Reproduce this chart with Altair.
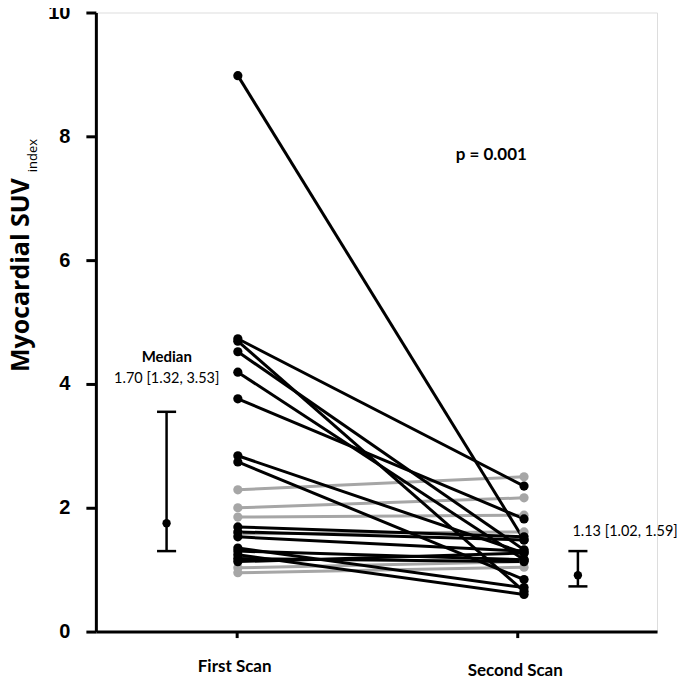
import altair as alt
import pandas as pd

# ---- data ----
gray_first = [2.29, 2.00, 1.85, 1.58, 1.03, 0.95]
gray_second = [2.50, 2.16, 1.88, 1.61, 1.13, 1.04]
black_first = [8.98, 4.73, 4.69, 4.52, 4.19, 3.76, 2.84, 2.74, 1.69, 1.61, 1.53, 1.35, 1.30, 1.24, 1.18, 1.13]
black_second = [1.48, 2.35, 0.65, 1.32, 1.16, 1.82, 1.27, 0.84, 1.53, 1.48, 1.30, 0.71, 1.16, 0.60, 1.13, 1.27]

scan_labels = ["First Scan", "Second Scan"]
err_first = {"mid": 1.75, "lo": 1.30, "hi": 3.55}
err_second = {"mid": 0.91, "lo": 0.73, "hi": 1.30}
label_first = "1.70 [1.32, 3.53]"
label_second = "1.13 [1.02, 1.59]"
p_text = "p = 0.001"

# layout positions (x domain 0-100)
X_FIRST, X_SECOND = 25.3, 76.3
X_EB1, X_EB2 = 12.6, 85.9
CAP = 1.7

rows = []
pid = 0
for grp, f_list, s_list in [("gray", gray_first, gray_second), ("black", black_first, black_second)]:
    for f, s in zip(f_list, s_list):
        rows.append({"id": pid, "grp": grp, "x": X_FIRST, "v": f})
        rows.append({"id": pid, "grp": grp, "x": X_SECOND, "v": s})
        pid += 1
df = pd.DataFrame(rows)

xs = alt.Scale(domain=[0, 100], nice=False, zero=False)
ys = alt.Scale(domain=[0, 10], nice=False)

x_axis = alt.Axis(values=[25, 75], labels=False, title=None, domainWidth=3, domainColor="black",
                  tickWidth=3, tickSize=6, tickColor="black", grid=False)
y_axis = alt.Axis(values=[0, 2, 4, 6, 8, 10], format="d", title=None, domainWidth=3, domainColor="black",
                  tickWidth=3, tickSize=10, tickColor="black", grid=False,
                  labelFont="Liberation Sans", labelFontWeight="bold", labelFontSize=20,
                  labelColor="black", labelPadding=16)

base = alt.Chart(df)
lines_gray = base.transform_filter(alt.datum.grp == "gray").mark_line(strokeWidth=3, color="#a6a6a6").encode(
    x=alt.X("x:Q", scale=xs, axis=x_axis),
    y=alt.Y("v:Q", scale=ys, axis=y_axis),
    detail="id:N",
)
pts_gray = base.transform_filter(alt.datum.grp == "gray").mark_circle(size=85, opacity=1, color="#a6a6a6").encode(
    x=alt.X("x:Q", scale=xs), y=alt.Y("v:Q", scale=ys))
lines_black = base.transform_filter(alt.datum.grp == "black").mark_line(strokeWidth=3, color="black").encode(
    x=alt.X("x:Q", scale=xs), y=alt.Y("v:Q", scale=ys), detail="id:N")
pts_black = base.transform_filter(alt.datum.grp == "black").mark_circle(size=85, opacity=1, color="black").encode(
    x=alt.X("x:Q", scale=xs), y=alt.Y("v:Q", scale=ys))

eb = pd.DataFrame([
    {"x": X_EB1, "mid": err_first["mid"], "lo": err_first["lo"], "hi": err_first["hi"]},
    {"x": X_EB2, "mid": err_second["mid"], "lo": err_second["lo"], "hi": err_second["hi"]},
])
eb["xl"] = eb["x"] - CAP
eb["xr"] = eb["x"] + CAP
eb_base = alt.Chart(eb)
eb_stem = eb_base.mark_rule(strokeWidth=2.5, color="black").encode(
    x=alt.X("x:Q", scale=xs), y=alt.Y("lo:Q", scale=ys), y2="hi:Q")
eb_cap_hi = eb_base.mark_rule(strokeWidth=2.5, color="black").encode(
    x=alt.X("xl:Q", scale=xs), x2="xr:Q", y=alt.Y("hi:Q", scale=ys))
eb_cap_lo = eb_base.mark_rule(strokeWidth=2.5, color="black").encode(
    x=alt.X("xl:Q", scale=xs), x2="xr:Q", y=alt.Y("lo:Q", scale=ys))
eb_dot = eb_base.mark_circle(size=70, opacity=1, color="black").encode(
    x=alt.X("x:Q", scale=xs), y=alt.Y("mid:Q", scale=ys))

FONT = "Lato"
def txt(s, x, y, size, weight="normal", align="center", angle=0, font=FONT):
    kw = dict(text=s, fontSize=size, fontWeight=weight, align=align, baseline="middle", font=font, color="black")
    if angle:
        kw["angle"] = angle
    return alt.Chart(pd.DataFrame({"t": [s]})).mark_text(**kw).encode(x=alt.value(x), y=alt.value(y))

# positions in plot-area pixels (plot origin at page 96,12)
texts = [
    txt(p_text, 492 - 96, 155 - 12, 17, "bold"),
    txt("Median", 167 - 96, 357 - 12, 15, "bold"),
    txt(label_first, 167 - 96, 379 - 12, 14.5),
    txt(label_second, 626 - 96, 532 - 12, 14.5),
    txt(scan_labels[0], 235 - 96, 667 - 12, 17, "bold"),
    txt(scan_labels[1], 516 - 96, 671 - 12, 17, "bold"),
    txt("Myocardial SUV", 21 - 96, 372 - 12, 25, "bold", align="left", angle=270, font="Open Sans"),
    txt("index", 33 - 96, 172 - 12, 13, "normal", align="left", angle=270, font="Open Sans"),
]

chart = alt.layer(lines_gray, lines_black, pts_gray, pts_black, eb_stem, eb_cap_hi, eb_cap_lo, eb_dot, *texts).properties(
    width=562, height=620,
    autosize=alt.AutoSizeParams(type="none"),
    padding={"left": 88, "top": 4, "right": 20, "bottom": 56},
).configure_view(stroke=None).configure(background="white")

chart.save("out.html", embed_options={"renderer": "svg", "actions": False})
